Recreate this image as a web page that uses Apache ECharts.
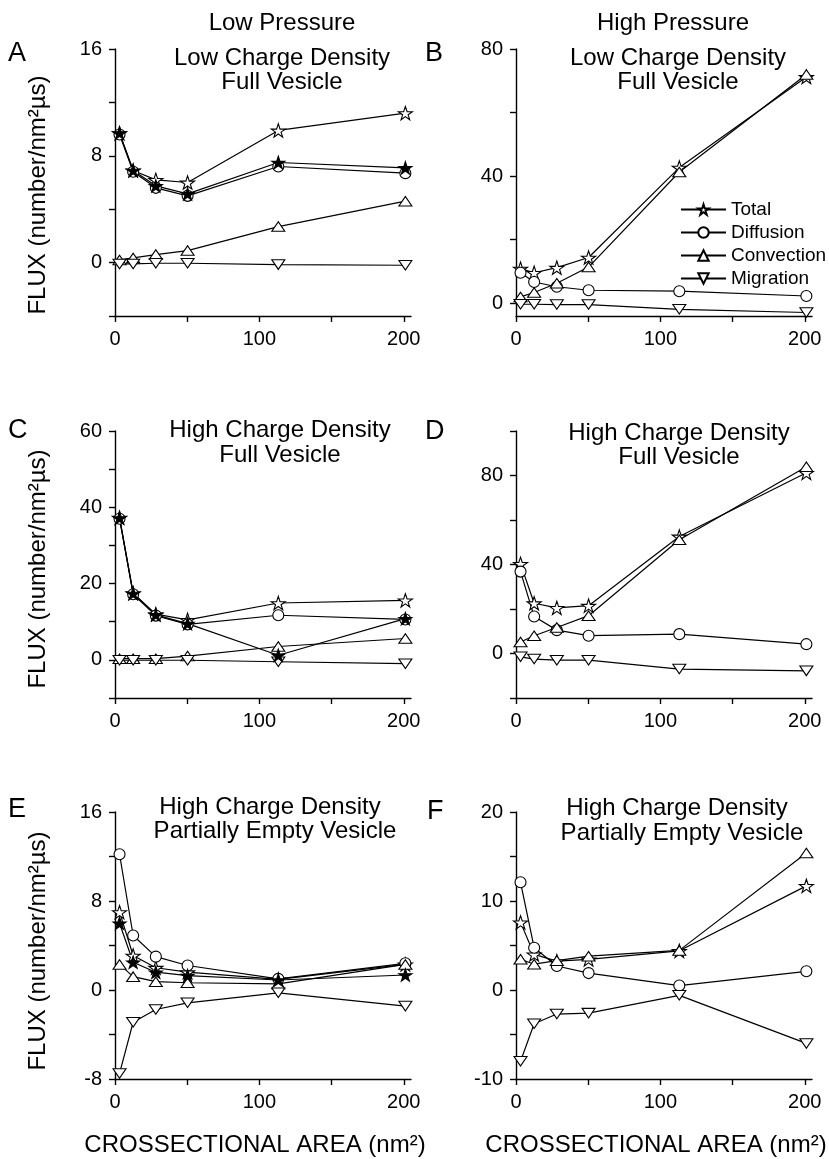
<!DOCTYPE html>
<html>
<head>
<meta charset="utf-8">
<script src="https://cdn.jsdelivr.net/npm/echarts@6/dist/echarts.min.js"></script>
<style>
  html, body { margin: 0; padding: 0; background: #fff; }
  #chart { width: 829px; height: 1159px; }
</style>
</head>
<body>
<div id="chart"></div>
<script>
// cross-sectional areas (nm2), pi*r^2 for r = 1,2,3,4,6,8
var areas = [3.14, 12.57, 28.27, 50.27, 113.1, 201.1];
var xTicks = [0, 50, 100, 150, 200];
var xLabels = [0, 100, 200];

// A: low pressure, low charge density, full vesicle
var totalA = [9.7, 6.9, 6.2, 6.0, 9.9, 11.2];
var diffA = [9.6, 6.8, 5.6, 5.0, 7.2, 6.7];
var convA = [0.2, 0.35, 0.6, 0.9, 2.7, 4.6];
var migA = [-0.1, -0.1, -0.05, -0.05, -0.15, -0.2];
var sumA = [9.7, 6.9, 5.75, 5.15, 7.5, 7.1];
var yTicksA = [-4, 0, 4, 8, 12, 16];
var yLabelsA = [0, 8, 16];

// B: high pressure, low charge density, full vesicle
var totalB = [10.9, 9.6, 11.2, 14.4, 42.7, 71.2];
var diffB = [9.6, 6.7, 5.2, 4.1, 3.8, 2.3];
var convB = [2.0, 3.4, 6.3, 11.4, 41.3, 72.0];
var migB = [-0.3, -0.3, -0.4, -0.4, -1.9, -2.9];
var yTicksB = [0, 20, 40, 60, 80];
var yLabelsB = [0, 40, 80];

// C: low pressure, high charge density, full vesicle
var totalC = [37.3, 17.5, 12.0, 10.5, 14.9, 15.6];
var diffC = [37.0, 17.2, 11.6, 9.3, 11.7, 10.6];
var convC = [0.3, 0.3, 0.3, 1.0, 3.5, 5.6];
var migC = [-0.1, -0.1, -0.1, -0.1, -0.5, -1.0];
var sumC = [37.2, 17.4, 11.8, 9.5, 1.2, 10.8];
var yTicksC = [-10, 0, 10, 20, 30, 40, 50, 60];
var yLabelsC = [0, 20, 40, 60];

// D: high pressure, high charge density, full vesicle
var totalD = [40.3, 22.6, 20.5, 21.5, 52.6, 81.2];
var diffD = [36.8, 16.6, 10.5, 8.0, 8.7, 4.2];
var convD = [5.2, 8.0, 11.7, 17.0, 51.1, 83.9];
var migD = [-1.5, -2.5, -3.0, -3.0, -7.0, -7.8];
var yTicksD = [-20, 0, 20, 40, 60, 80, 100];
var yLabelsD = [0, 40, 80];

// E: low pressure, high charge density, partially empty vesicle
var totalE = [7.0, 3.1, 2.0, 1.6, 0.95, 2.3];
var diffE = [12.2, 4.9, 3.0, 2.2, 1.0, 2.4];
var convE = [2.3, 1.2, 0.75, 0.65, 0.55, 2.3];
var migE = [-7.5, -2.9, -1.75, -1.15, -0.25, -1.45];
var sumE = [6.0, 2.5, 1.6, 1.3, 0.9, 1.35];
var yTicksE = [-8, -4, 0, 4, 8, 12, 16];
var yLabelsE = [-8, 0, 8, 16];

// F: high pressure, high charge density, partially empty vesicle
var totalF = [7.6, 4.0, 3.25, 3.45, 4.4, 11.7];
var diffF = [12.1, 4.75, 2.7, 1.9, 0.5, 2.1];
var convF = [3.45, 2.9, 3.3, 3.8, 4.45, 15.4];
var migF = [-8.0, -3.8, -2.7, -2.6, -0.6, -6.0];
var yTicksF = [-10, -5, 0, 5, 10, 15, 20];
var yLabelsF = [-10, 0, 10, 20];

var FONT = '"Liberation Sans", Arial, Helvetica, sans-serif';
var STAR = 'path://M10,0 L12.35,7.24 L19.51,7.24 L13.72,11.41 L15.88,18.09 L10,13.82 L4.12,18.09 L6.28,11.41 L0.49,7.24 L7.65,7.24 Z';
var TRI_UP = 'path://M6,0 L12,10.4 L0,10.4 Z';
var TRI_DOWN = 'path://M0,0 L12,0 L6,10.4 Z';
var yName = 'FLUX (number/nm²µs)';
var xName = 'CROSSECTIONAL AREA (nm²)';

// panel layout
var panels = [
  { left: 115, top: 49, min: -4, max: 16, ticks: yTicksA, labels: yLabelsA,
    total: totalA, diff: diffA, conv: convA, mig: migA, sum: sumA },
  { left: 516, top: 49, min: -4, max: 80, ticks: yTicksB, labels: yLabelsB,
    total: totalB, diff: diffB, conv: convB, mig: migB, sum: null },
  { left: 115, top: 431, min: -10, max: 60, ticks: yTicksC, labels: yLabelsC,
    total: totalC, diff: diffC, conv: convC, mig: migC, sum: sumC },
  { left: 516, top: 431, min: -20, max: 100, ticks: yTicksD, labels: yLabelsD,
    total: totalD, diff: diffD, conv: convD, mig: migD, sum: null },
  { left: 115, top: 812, min: -8, max: 16, ticks: yTicksE, labels: yLabelsE,
    total: totalE, diff: diffE, conv: convE, mig: migE, sum: sumE },
  { left: 516, top: 812, min: -10, max: 20, ticks: yTicksF, labels: yLabelsF,
    total: totalF, diff: diffF, conv: convF, mig: migF, sum: null }
];

function pairs(vals) {
  return areas.map(function (x, j) { return [x, vals[j]]; });
}

var axisLineStyle = { color: '#000', width: 1.4 };
var grids = [], xAxes = [], yAxes = [], series = [];

panels.forEach(function (p, i) {
  grids.push({ left: p.left, top: p.top, width: 296, height: 267, containLabel: false });
  xAxes.push({
    type: 'value', gridIndex: i, min: 0, max: 205,
    axisLine: { onZero: false, lineStyle: axisLineStyle },
    axisTick: { customValues: xTicks, length: 6, lineStyle: axisLineStyle },
    axisLabel: { customValues: xLabels, color: '#000', fontSize: 20, fontFamily: FONT, margin: 13 },
    splitLine: { show: false }
  });
  yAxes.push({
    type: 'value', gridIndex: i, min: p.min, max: p.max,
    axisLine: { onZero: false, lineStyle: axisLineStyle },
    axisTick: { customValues: p.ticks, length: 6, lineStyle: axisLineStyle },
    axisLabel: { customValues: p.labels, color: '#000', fontSize: 20, fontFamily: FONT, margin: 13 },
    splitLine: { show: false }
  });

  var defs = [
    { name: 'Total', vals: p.total, symbol: STAR, size: 14, fill: '#fff' },
    { name: 'Diffusion', vals: p.diff, symbol: 'circle', size: 11, fill: '#fff' },
    { name: 'Convection', vals: p.conv, symbol: TRI_UP, size: [13, 11], fill: '#fff' },
    { name: 'Migration', vals: p.mig, symbol: TRI_DOWN, size: [13, 11], fill: '#fff' }
  ];
  if (p.sum) defs.push({ name: 'Sum', vals: p.sum, symbol: STAR, size: 13, fill: '#000' });

  defs.forEach(function (d) {
    series.push({
      name: d.name, type: 'line', xAxisIndex: i, yAxisIndex: i,
      data: pairs(d.vals),
      symbol: d.symbol, symbolSize: d.size, symbolKeepAspect: true,
      showSymbol: true, showAllSymbol: true,
      itemStyle: { color: d.fill, borderColor: '#000', borderWidth: 1.1 },
      lineStyle: { color: '#000', width: 1.2 },
      emphasis: { disabled: true }
    });
  });
});

function txt(x, y, text, size, align, rot) {
  return {
    type: 'text', x: x, y: y, rotation: rot || 0,
    style: { text: text, fill: '#000', fontSize: size, fontFamily: FONT,
             align: align || 'center', verticalAlign: 'middle' }
  };
}

var graphics = [
  txt(282, 23, 'Low Pressure', 24),
  txt(673, 23, 'High Pressure', 24),
  txt(282, 58, 'Low Charge Density', 24), txt(282, 82, 'Full Vesicle', 24),
  txt(678, 58, 'Low Charge Density', 24), txt(678, 82, 'Full Vesicle', 24),
  txt(280, 430, 'High Charge Density', 24), txt(280, 455, 'Full Vesicle', 24),
  txt(679, 433, 'High Charge Density', 24), txt(679, 457, 'Full Vesicle', 24),
  txt(270, 807, 'High Charge Density', 24), txt(275, 831, 'Partially Empty Vesicle', 24),
  txt(677, 808, 'High Charge Density', 24), txt(682, 833, 'Partially Empty Vesicle', 24),
  txt(38, 195, yName, 24, 'center', Math.PI / 2),
  txt(38, 569, yName, 24, 'center', Math.PI / 2),
  txt(38, 951, yName, 24, 'center', Math.PI / 2),
  txt(255, 1145, xName, 24),
  txt(656, 1145, xName, 24),
  txt(8, 54, 'A', 27, 'left'),
  txt(425, 54, 'B', 27, 'left'),
  txt(8, 431, 'C', 27, 'left'),
  txt(425, 432, 'D', 27, 'left'),
  txt(8, 810, 'E', 27, 'left'),
  txt(427, 812, 'F', 27, 'left')
];

var chart = echarts.init(document.getElementById('chart'));
chart.setOption({
  animation: false,
  backgroundColor: '#fff',
  grid: grids,
  xAxis: xAxes,
  yAxis: yAxes,
  legend: {
    data: ['Total', 'Diffusion', 'Convection', 'Migration'],
    orient: 'vertical', left: 680, top: 200, padding: 0,
    itemWidth: 45, itemHeight: 13, itemGap: 4,
    textStyle: { color: '#000', fontSize: 19, fontFamily: FONT },
    selectedMode: false
  },
  graphic: graphics,
  series: series
});
</script>
</body>
</html>
